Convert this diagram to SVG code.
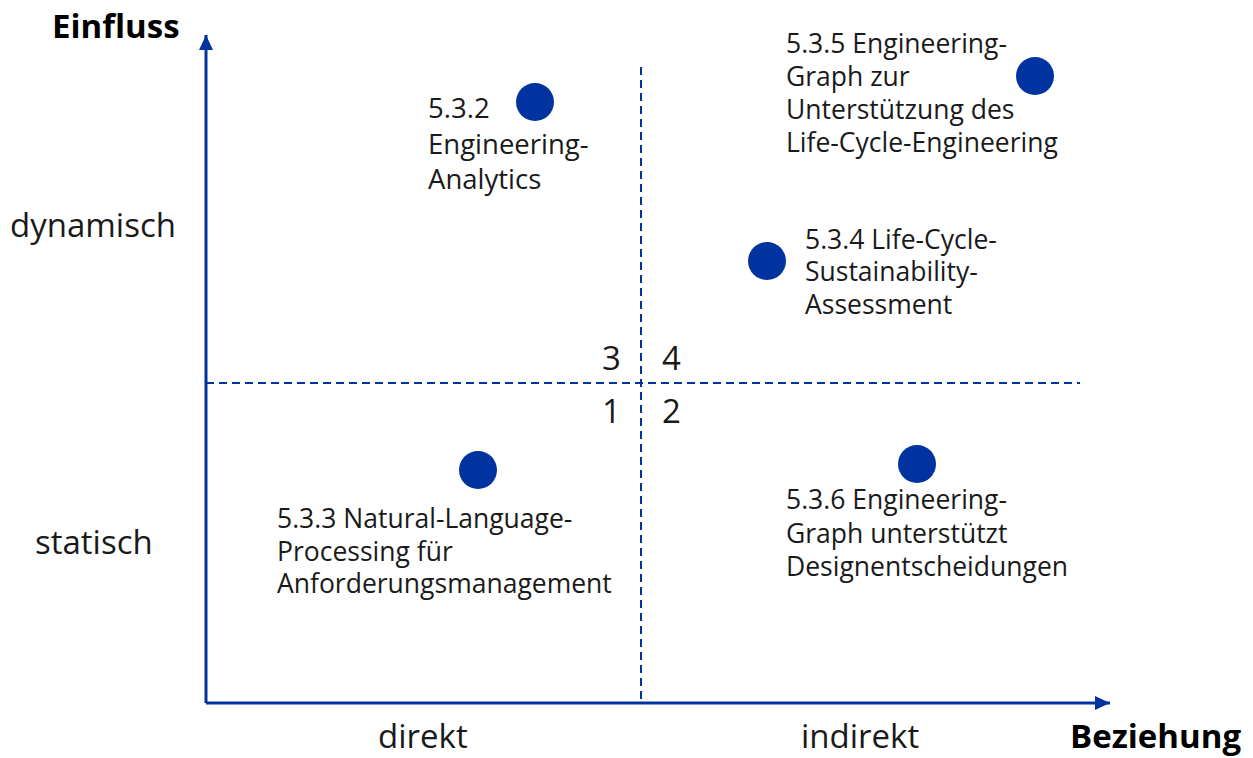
<svg xmlns="http://www.w3.org/2000/svg" width="1253" height="758" viewBox="0 0 1253 758">
<defs>
<marker id="arr" markerWidth="15" markerHeight="14" refX="15" refY="7" orient="auto" markerUnits="userSpaceOnUse">
<path d="M0,0 L15,7 L0,14 Z" fill="#0033A0"/>
</marker>
<style>
.t{font-family:"Open Sans","Noto Sans","DejaVu Sans",sans-serif;font-size:26.5px;fill:#1a1a1a}
.t2{font-size:27.5px}
.ax{font-family:"Open Sans","Noto Sans","DejaVu Sans",sans-serif;font-size:33px;fill:#1a1a1a}
.b{font-family:"Open Sans","Noto Sans","DejaVu Sans",sans-serif;font-size:33px;font-weight:bold;fill:#000}
.dot{fill:#0033A0}
.axis{stroke:#0033A0;stroke-width:3;fill:none}
.dash{stroke:#0033A0;stroke-width:2;stroke-dasharray:8 5;fill:none}
</style>
</defs>
<rect width="1253" height="758" fill="#fff"/>
<g id="connectors">
<line class="dash" x1="641" y1="67" x2="641" y2="703"/>
<line class="dash" x1="206" y1="383" x2="1080" y2="383"/>
<line class="axis" x1="206" y1="703" x2="206" y2="35" marker-end="url(#arr)"/>
<line class="axis" x1="206" y1="703" x2="1110" y2="703" marker-end="url(#arr)"/>
</g>
<g id="axis-labels">
<text class="b" x="52" y="38">Einfluss</text>
<text class="b" x="1070" y="748">Beziehung</text>
<text class="ax" x="10" y="237">dynamisch</text>
<text class="ax" x="35" y="554">statisch</text>
<text class="ax" x="378" y="748">direkt</text>
<text class="ax" x="801" y="748">indirekt</text>
<text class="ax" x="602" y="370">3</text>
<text class="ax" x="662" y="370">4</text>
<text class="ax" x="602" y="423">1</text>
<text class="ax" x="662" y="423">2</text>
</g>
<g id="n532">
<circle class="dot" cx="535" cy="102" r="19"/>
<text class="t t2"><tspan x="428" y="118">5.3.2</tspan><tspan x="428" y="154">Engineering-</tspan><tspan x="428" y="189">Analytics</tspan></text>
</g>
<g id="n535">
<circle class="dot" cx="1035" cy="76" r="19"/>
<text class="t"><tspan x="786" y="53">5.3.5 Engineering-</tspan><tspan x="786" y="86">Graph zur</tspan><tspan x="786" y="119">Unterstützung des</tspan><tspan x="786" y="152">Life-Cycle-Engineering</tspan></text>
</g>
<g id="n534">
<circle class="dot" cx="767" cy="261" r="19"/>
<text class="t"><tspan x="805" y="249">5.3.4 Life-Cycle-</tspan><tspan x="805" y="281">Sustainability-</tspan><tspan x="805" y="314">Assessment</tspan></text>
</g>
<g id="n533">
<circle class="dot" cx="478" cy="470" r="19"/>
<text class="t"><tspan x="277" y="528">5.3.3 Natural-Language-</tspan><tspan x="277" y="561">Processing für</tspan><tspan x="277" y="593">Anforderungsmanagement</tspan></text>
</g>
<g id="n536">
<circle class="dot" cx="917" cy="464" r="19"/>
<text class="t"><tspan x="786" y="509">5.3.6 Engineering-</tspan><tspan x="786" y="543">Graph unterstützt</tspan><tspan x="786" y="576">Designentscheidungen</tspan></text>
</g>
</svg>
